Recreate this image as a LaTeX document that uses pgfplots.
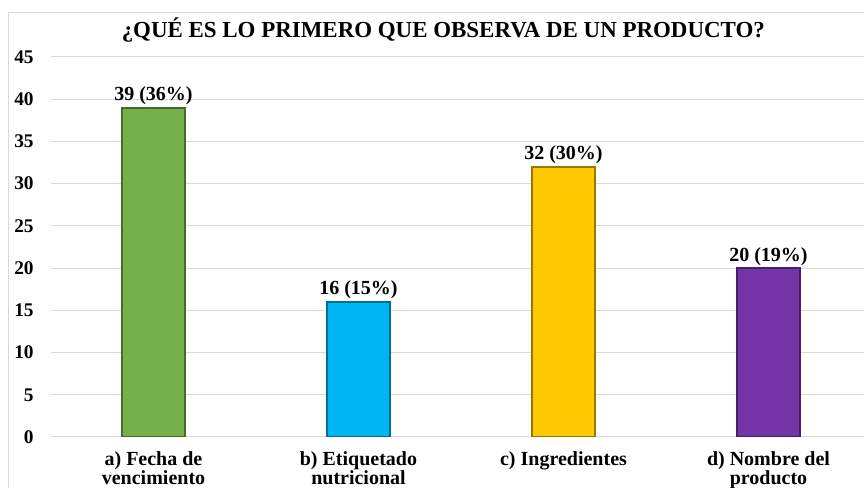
\documentclass[border=0pt]{standalone}
\usepackage{fontspec}
\setmainfont{Liberation Serif}
\usepackage{pgfplots}
\pgfplotsset{compat=1.18}
\definecolor{gridc}{HTML}{D9D9D9}
\definecolor{cgreen}{HTML}{74B14A}
\definecolor{cblue}{HTML}{00B6F2}
\definecolor{cyellow}{HTML}{FFC800}
\definecolor{cpurple}{HTML}{7434A6}
\begin{document}
\begin{tikzpicture}
\path[use as bounding box] (0pt,0pt) rectangle (648pt,366pt);
\draw[gridc, line width=0.75pt] (6pt,0pt) -- (6pt,356.25pt) -- (652pt,356.25pt);
\node[font=\bfseries\fontsize{17.2}{20}\selectfont, anchor=center] at (332.5pt,343.5pt) {¿QUÉ ES LO PRIMERO QUE OBSERVA DE UN PRODUCTO?};
\begin{axis}[
  at={(38.25pt,38.25pt)}, anchor=south west,
  scale only axis, width=615pt, height=285pt,
  xmin=-0.5, xmax=3.5, ymin=0, ymax=45,
  ytick={0,5,...,45},
  xtick={0,1,2,3},
  xticklabels={{a) Fecha de\\vencimiento},{b) Etiquetado\\nutricional},{c) Ingredientes},{d) Nombre del\\producto}},
  axis line style={draw=none},
  major tick length=0pt,
  ymajorgrids, grid style={gridc, line width=0.75pt},
  /pgf/number format/assume math mode=true,
  yticklabel style={font=\bfseries\fontsize{14.5}{16}\selectfont, anchor=east, xshift=-9.5pt},
  xticklabel style={font=\bfseries\fontsize{15}{14.5}\selectfont, align=center, anchor=north, yshift=-7.5pt},
  ybar, bar width=47.25pt, bar shift=0pt,
  every node near coord/.style={font=\bfseries\fontsize{15}{17}\selectfont, black, anchor=south, yshift=-2pt},
]
\addplot[fill=cgreen, draw=cgreen!60!black, line width=1.5pt, nodes near coords={39 (36\%)}] coordinates {(0,39)};
\addplot[fill=cblue, draw=cblue!60!black, line width=1.5pt, nodes near coords={16 (15\%)}] coordinates {(1,16)};
\addplot[fill=cyellow, draw=cyellow!60!black, line width=1.5pt, nodes near coords={32 (30\%)}] coordinates {(2,32)};
\addplot[fill=cpurple, draw=cpurple!60!black, line width=1.5pt, nodes near coords={20 (19\%)}] coordinates {(3,20)};
\end{axis}
\end{tikzpicture}
\end{document}
